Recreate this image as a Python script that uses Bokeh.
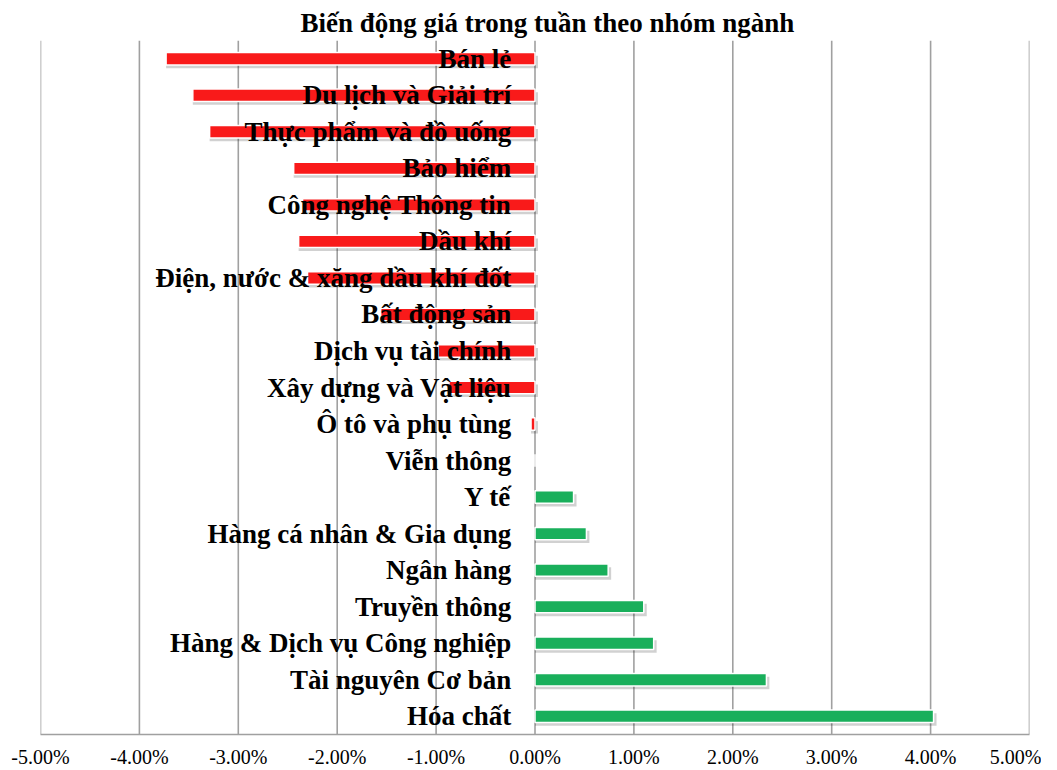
from bokeh.plotting import figure
from bokeh.models import Range1d, FixedTicker, PrintfTickFormatter, ColumnDataSource
from bokeh.core.properties import value
from bokeh.embed import file_html
from bokeh.resources import INLINE

categories = ["Bán lẻ", "Du lịch và Giải trí", "Thực phẩm và đồ uống", "Bảo hiểm",
              "Công nghệ Thông tin", "Dầu khí", "Điện, nước & xăng dầu khí đốt",
              "Bất động sản", "Dịch vụ tài chính", "Xây dựng và Vật liệu",
              "Ô tô và phụ tùng", "Viễn thông", "Y tế", "Hàng cá nhân & Gia dụng",
              "Ngân hàng", "Truyền thông", "Hàng & Dịch vụ Công nghiệp",
              "Tài nguyên Cơ bản", "Hóa chất"]
values = [-3.73, -3.46, -3.29, -2.44, -2.35, -2.39, -2.30, -1.56, -0.98, -0.87,
          -0.04, 0.0, 0.39, 0.52, 0.74, 1.10, 1.20, 2.34, 4.03]
ticks = [-5, -4, -3, -2, -1, 0, 1, 2, 3, 4, 5]

RED = "#F91A1A"
GREEN = "#19AF5B"
FONT = "Liberation Serif"

n = len(categories)
ypos = [n - 1 - i for i in range(n)]
colors = [RED if v < 0 else GREEN for v in values]
src = ColumnDataSource(dict(cat=categories, val=values, y=ypos, color=colors,
                            ys=[y - 0.09 for y in ypos],
                            vs=[v + 0.03 if v > 0 else v for v in values],
                            x0s=[0.03 if v < 0 else 0.0 for v in values],
                            lx=[-0.24] * n))

p = figure(width=1041, height=770, x_range=Range1d(-5, 5), y_range=Range1d(-0.5, n - 0.5),
           output_backend="svg", toolbar_location=None,
           min_border_left=40, min_border_right=12, min_border_top=40, min_border_bottom=30,
           title="Biến động giá trong tuần theo nhóm ngành")
p.title.align = "left"
p.title.offset = 260
p.title.text_font = FONT
p.title.text_font_size = "27px"
p.title.text_font_style = "bold"
p.title.text_color = "black"
p.title.standoff = 5

p.outline_line_color = None
p.yaxis.visible = False
p.ygrid.grid_line_color = None
p.xgrid.grid_line_color = None
p.xaxis.ticker = FixedTicker(ticks=ticks)
p.xaxis.formatter = PrintfTickFormatter(format="%.2f%%")
p.xaxis.axis_line_color = "#A0A0A0"
p.xaxis.axis_line_width = 1.6
p.xaxis.major_tick_line_color = None
p.xaxis.minor_tick_line_color = None
p.xaxis.major_label_text_font = FONT
p.xaxis.major_label_text_font_size = "20px"
p.xaxis.major_label_text_color = "black"
p.xaxis.major_label_standoff = 5

# vertical gridlines at tick positions
p.segment(x0=ticks, y0=[-0.5] * len(ticks), x1=ticks, y1=[n - 0.5] * len(ticks),
          line_color="#A0A0A0", line_width=1.6)

# shadow
p.hbar(y="ys", left="x0s", right="vs", height=0.34, source=src,
       fill_color="black", fill_alpha=0.18, line_color=None)
# bars
p.hbar(y="y", left=0, right="val", height=0.34, source=src,
       fill_color="color", line_color="white", line_width=1.5)

p.text(x="lx", y="y", text="cat", source=src, text_align="right", text_baseline="middle",
       text_font=value(FONT), text_font_style="bold", text_font_size="27px", text_color="black")

open("out.html", "w").write(file_html(p, INLINE))
